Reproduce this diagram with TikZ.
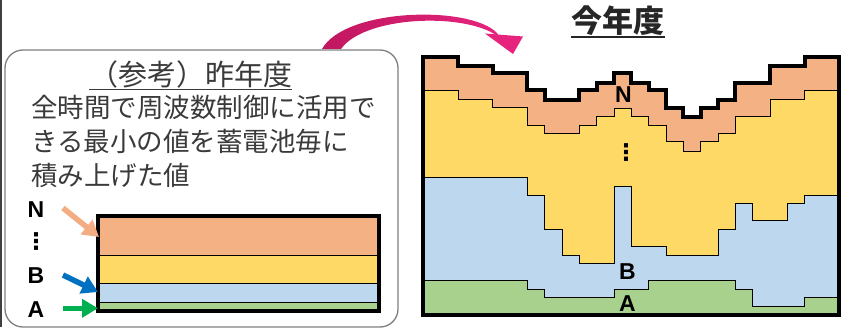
\documentclass[tikz,border=0pt]{standalone}
\usepackage{fontspec}
\setmainfont{Liberation Sans}
\newfontfamily\jpfont{Noto Sans CJK JP}
\newfontfamily\dotfont{DejaVu Sans}
\usepackage{xcolor}
\usetikzlibrary{arrows.meta}
\definecolor{ink}{HTML}{3A3A3A}
\definecolor{boxgray}{HTML}{7F7F7F}
\definecolor{edgegray}{HTML}{404040}
\definecolor{layerN}{HTML}{F4B183}
\definecolor{layerY}{HTML}{FFD966}
\definecolor{layerB}{HTML}{BDD7EE}
\definecolor{layerA}{HTML}{A9D18E}
\definecolor{arrN}{HTML}{F4AC82}
\definecolor{arrB}{HTML}{0070C0}
\definecolor{arrA}{HTML}{00B050}
\definecolor{pinkdark}{HTML}{C0175F}
\definecolor{pink}{HTML}{E6247E}
\tikzset{
  seam/.style={draw=black, line width=0.8pt},
  frame/.style={draw=black, line width=4pt, line join=miter},
  smallframe/.style={draw=black, line width=3.2pt},
  tag/.style={font=\bfseries\fontsize{23}{23}\selectfont, inner sep=0pt},
  vdots/.style={font=\dotfont\bfseries\fontsize{23}{23}\selectfont, inner sep=0pt},
  pointer/.style={-{Triangle[length=16pt,width=18pt]}, line width=5.5pt},
  jptext/.style={font=\jpfont\fontsize{26.5}{26.5}\selectfont, text=ink, inner sep=0pt, anchor=base west},
  ul/.style={line width=1.5pt}
}

\begin{document}
\begin{tikzpicture}[x=1pt, y=-1pt]
  \useasboundingbox (0,0) rectangle (850,331);

  % edge of the slide
  \draw[edgegray, line width=2pt] (1,0) -- (1,327);

  % curved pointer from last year to this year
  \shade[left color=pinkdark, right color=pink]
    (322,49) .. controls (345,8) and (470,5) .. (497,33)
    -- (500,38) .. controls (470,12) and (365,15) .. (341,49) -- cycle;
  \fill[pink] (485,33.5) -- (523,36.5) -- (513,54) -- cycle;

  % last year box
  \draw[boxgray, line width=1.3pt, rounded corners=18pt] (5,50) rectangle (398,327);
  \node[jptext, font=\jpfont\fontsize{29}{29}\selectfont] (oldtitle) at (89,85.5) {（参考）昨年度};
  \draw[ul, ink] ([yshift=-4pt]oldtitle.base west) -- ([yshift=-4pt]oldtitle.base east);
  \node[jptext] (note1) at (31,118) {全時間で周波数制御に活用で};
  \node[jptext] (note2) at (31,152) {きる最小の値を蓄電池毎に};
  \node[jptext] (note3) at (31,185) {積み上げた値};

  % flat stack
  \fill[layerN] (98,216) rectangle (379,255);
  \fill[layerY] (98,255) rectangle (379,283.3);
  \fill[layerB] (98,283.3) rectangle (379,302.3);
  \fill[layerA] (98,302.3) rectangle (379,311);
  \draw[seam] (98,255) -- (379,255);
  \draw[seam] (98,283.3) -- (379,283.3);
  \draw[seam] (98,302.3) -- (379,302.3);
  \draw[smallframe] (98,216) rectangle (379,311);

  \node[tag] (oldN) at (36,210) {N};
  \node[vdots] (olddots) at (36,242) {⋮};
  \node[tag] (oldB) at (36,276) {B};
  \node[tag] (oldA) at (36,309.3) {A};

  \coordinate (nTail) at (63,208);   \coordinate (nTip) at (99,237);
  \coordinate (bTail) at (63,275);   \coordinate (bTip) at (98,292);
  \coordinate (aTail) at (63,308.3); \coordinate (aTip) at (98,308.3);
  \draw[pointer, arrN] (nTail) -- (nTip);
  \draw[pointer, arrB] (bTail) -- (bTip);
  \draw[pointer, arrA] (aTail) -- (aTip);

  % this year, one column per hour
  \begin{scope}[shift={(423.3,0)}, x=17.333pt]
    \fill[layerN] plot[const plot mark left] coordinates {(0,56.7) (2,66) (4,73.3) (6,90.5) (7,100) (9,90.5) (10,82.7) (11,73.3) (12,82.7) (13,90.5) (14,108.3) (15,117.3) (16,108.3) (17,100) (18,82.7) (20,66) (22,56.7) (24,56.7)} -- (24,315) -- (0,315) -- cycle;
    \fill[layerY] plot[const plot mark left] coordinates {(0,90.7) (2,99.3) (4,107.7) (6,125) (7,133.3) (9,125) (10,116.7) (11,108.3) (12,116.7) (13,125) (14,141.7) (15,151.7) (16,141.7) (17,133.3) (18,116.7) (20,99.3) (22,90.7) (24,90.7)} -- (24,315) -- (0,315) -- cycle;
    \fill[layerB] plot[const plot mark left] coordinates {(0,177.7) (6,195) (7,229.3) (8,255) (9,263.3) (11,186.7) (12,246.7) (14,255) (17,229.3) (18,203.3) (19,220.7) (21,203.3) (22,195) (24,195)} -- (24,315) -- (0,315) -- cycle;
    \fill[layerA] plot[const plot mark left] coordinates {(0,280.7) (6,289.3) (7,297.7) (11,289.3) (13,280.7) (18,289.3) (19,306.7) (22,297.7) (24,297.7)} -- (24,315) -- (0,315) -- cycle;

    \draw[seam] plot[const plot mark left] coordinates {(0,90.7) (2,99.3) (4,107.7) (6,125) (7,133.3) (9,125) (10,116.7) (11,108.3) (12,116.7) (13,125) (14,141.7) (15,151.7) (16,141.7) (17,133.3) (18,116.7) (20,99.3) (22,90.7) (24,90.7)};
    \draw[seam] plot[const plot mark left] coordinates {(0,177.7) (6,195) (7,229.3) (8,255) (9,263.3) (11,186.7) (12,246.7) (14,255) (17,229.3) (18,203.3) (19,220.7) (21,203.3) (22,195) (24,195)};
    \draw[seam] plot[const plot mark left] coordinates {(0,280.7) (6,289.3) (7,297.7) (11,289.3) (13,280.7) (18,289.3) (19,306.7) (22,297.7) (24,297.7)};

    \draw[frame] plot[const plot mark left] coordinates {(0,56.7) (2,66) (4,73.3) (6,90.5) (7,100) (9,90.5) (10,82.7) (11,73.3) (12,82.7) (13,90.5) (14,108.3) (15,117.3) (16,108.3) (17,100) (18,82.7) (20,66) (22,56.7) (24,56.7)} -- (24,315) -- (0,315) -- cycle;
  \end{scope}

  \node[tag] (newN) at (623.5,95) {N};
  \node[vdots] (newdots) at (626,152.7) {⋮};
  \node[tag] (newB) at (627.5,271.3) {B};
  \node[tag] (newA) at (627.5,303.3) {A};

  \node[font=\jpfont\bfseries\fontsize{31}{31}\selectfont, text=black!85, inner sep=0pt, anchor=base] (newtitle) at (618,33) {今年度};
  \draw[line width=2pt, black!85] ([yshift=-3.7pt]newtitle.base west) -- ([yshift=-3.7pt]newtitle.base east);
\end{tikzpicture}
\end{document}
